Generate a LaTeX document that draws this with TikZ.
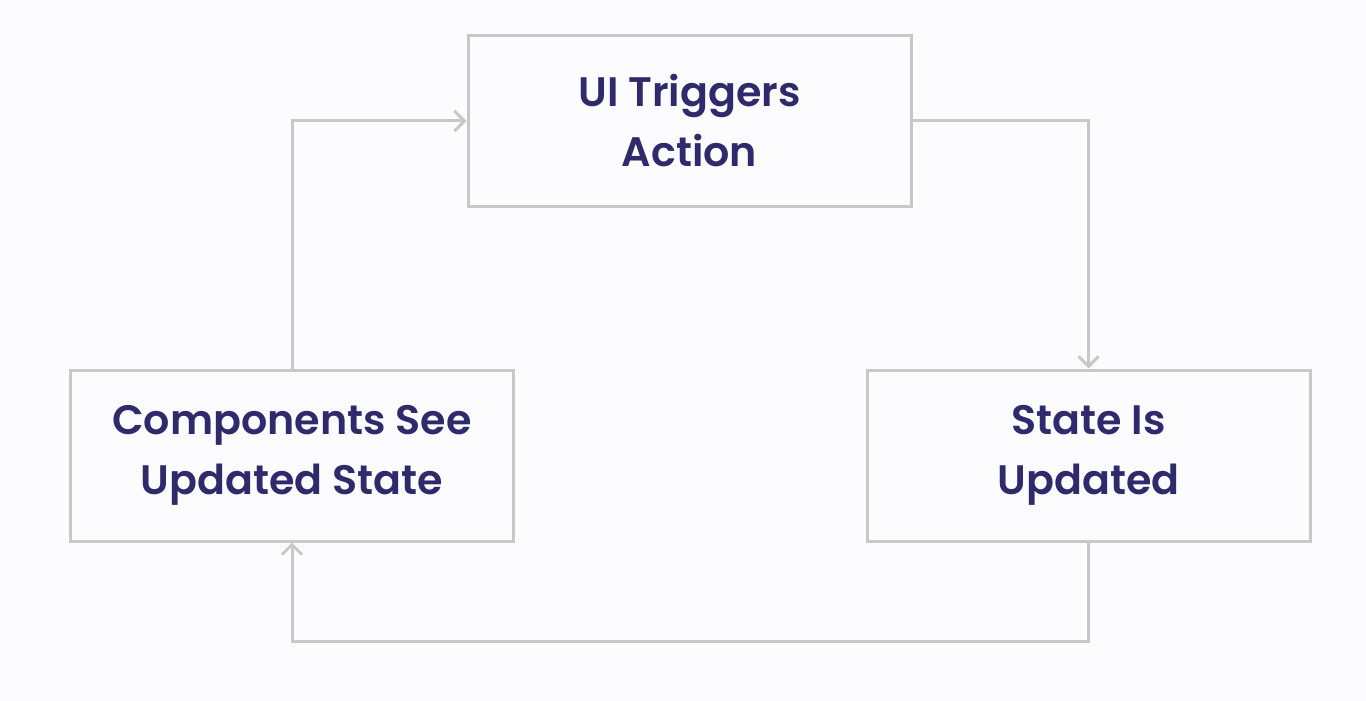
\documentclass[tikz,border=0pt]{standalone}
\usepackage{fontspec}
\setmainfont{Poppins}[UprightFont=* SemiBold, BoldFont=* SemiBold]
\usepackage{xcolor}
\usetikzlibrary{arrows.meta}
\definecolor{boxgray}{RGB}{200,200,202}
\definecolor{textnavy}{RGB}{46,42,108}
\definecolor{bgwhite}{RGB}{252,252,254}

\begin{document}
\begin{tikzpicture}[x=0.5pt, y=-0.5pt,
      box/.style={rectangle, draw=boxgray, line width=1.5pt, align=center,
        text=textnavy, font=\fontsize{20.6}{30}\selectfont,
        minimum width=221.5pt, minimum height=85.5pt, inner sep=0pt},
      flow/.style={draw=boxgray, line width=1.5pt,
        -{Straight Barb[length=5pt, width=10pt, line width=1.5pt]}}
      ]
      \fill[bgwhite] (0,0) rectangle (1366,701);
      \useasboundingbox (0,0) rectangle (1366,701);
      \node[box] (ui) at (689.5,121) {UI Triggers\\Action};
      \node[box] (state) at (1088.5,455.5) {State Is\\Updated};
      \node[box] (comps) at (292,455.5) {Components See\\Updated State};
      \draw[flow] (comps.north) |- (ui.west);
      \draw[flow] (ui.east) -| (state.north);
      \draw[flow] (state.south) -- ++(0,99) -| (comps.south);
    \end{tikzpicture}
\end{document}
